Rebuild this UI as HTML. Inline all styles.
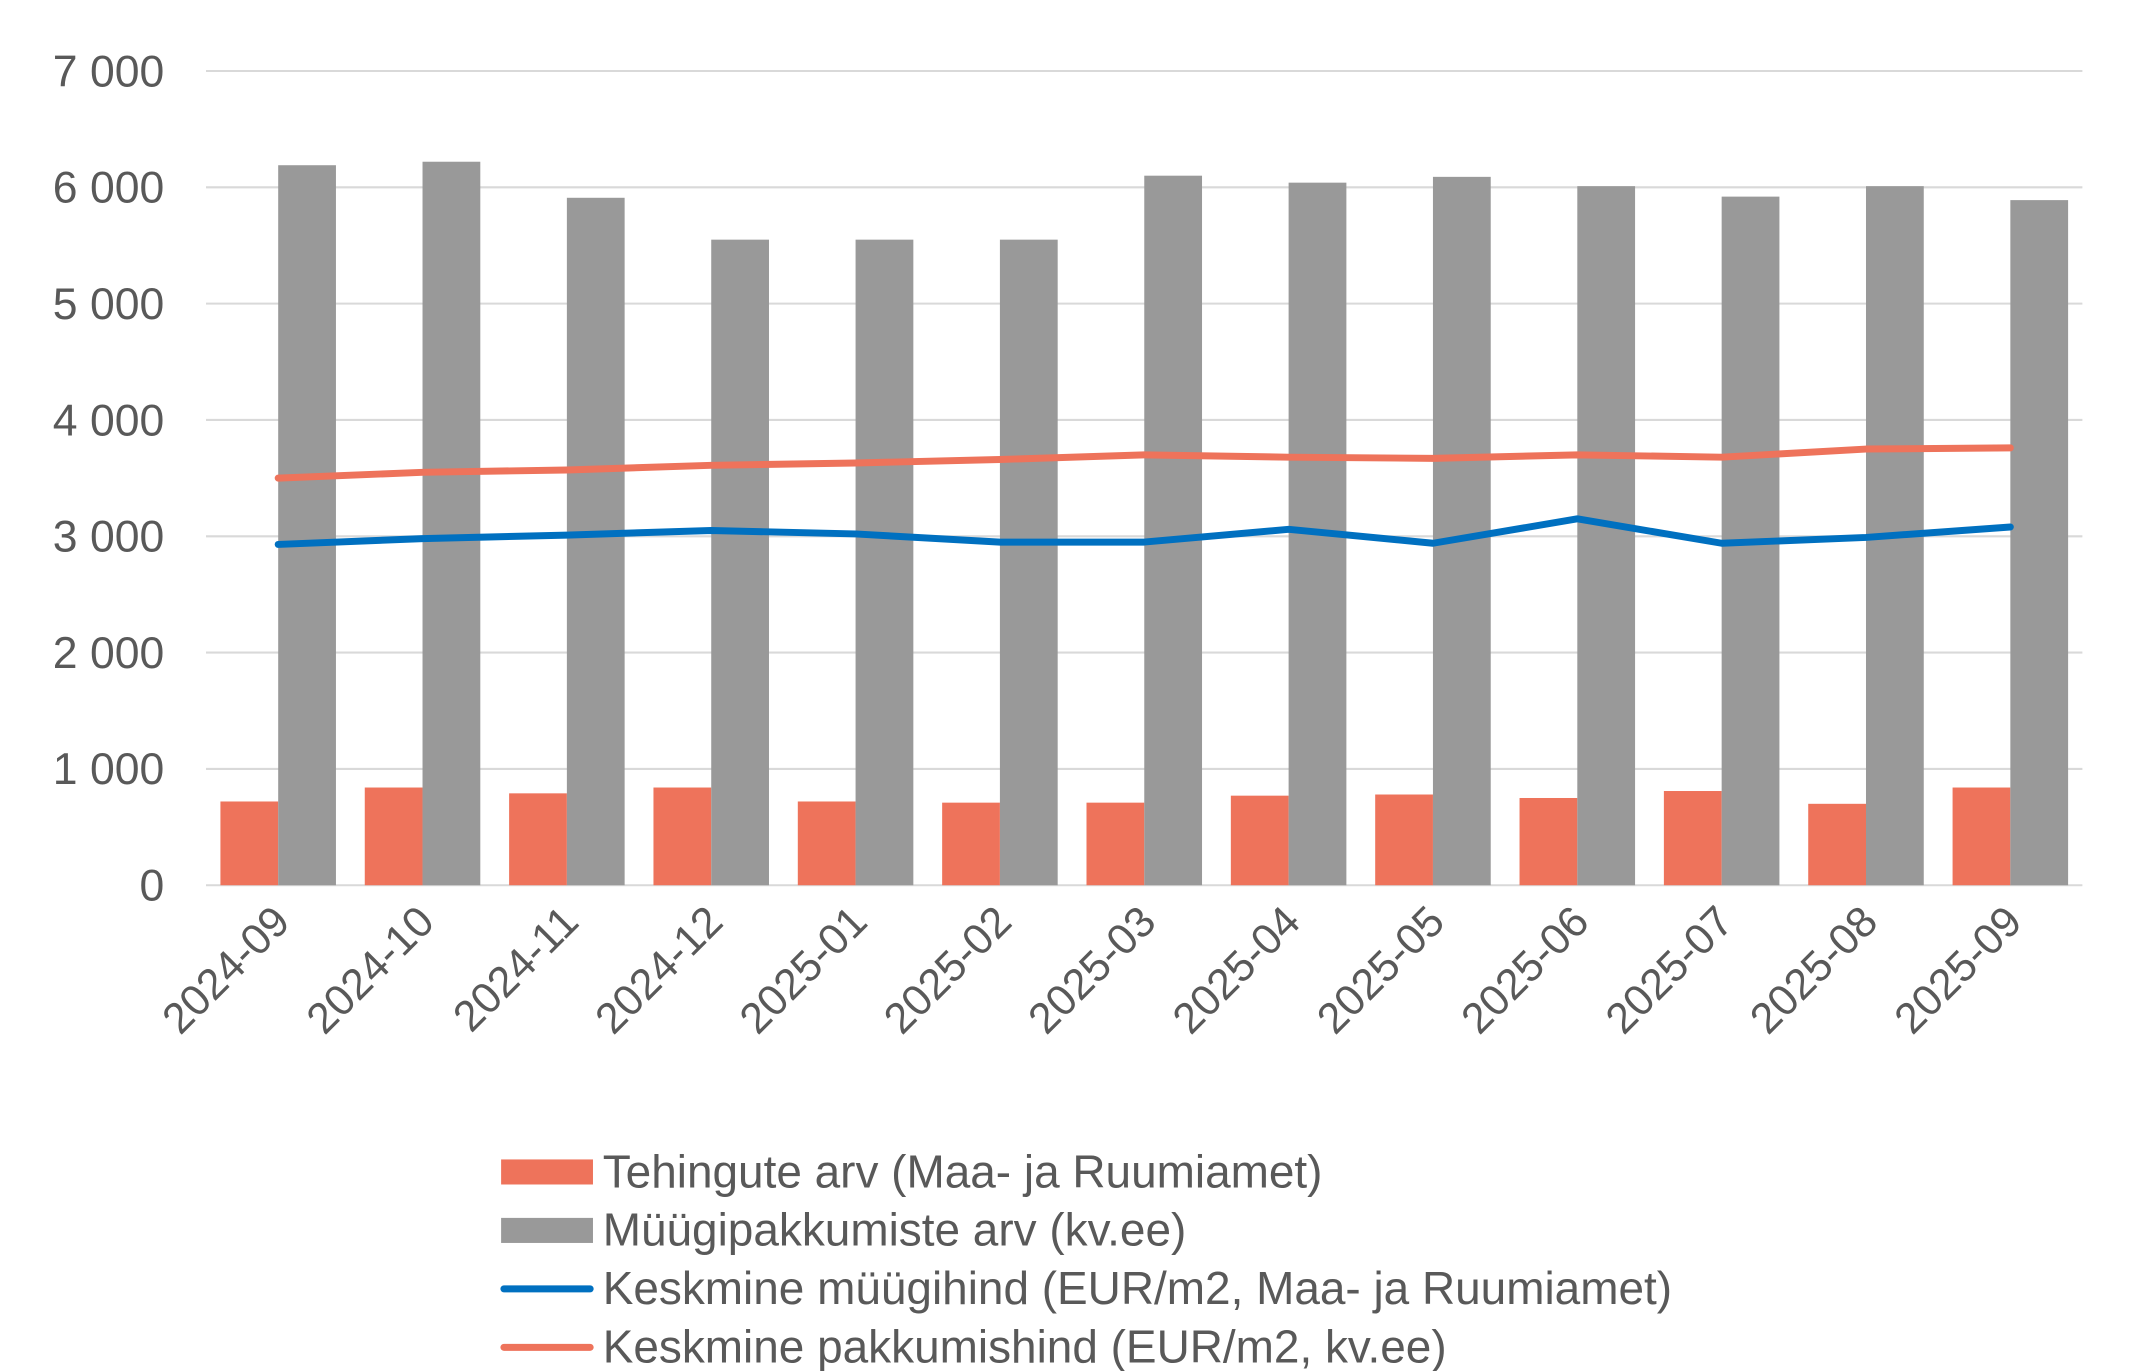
<!DOCTYPE html>
<html><head><meta charset="utf-8"><style>html,body{margin:0;padding:0;background:#fff}svg{display:block}text{font-family:"Liberation Sans",sans-serif;fill:#595959}</style></head>
<body>
<svg width="2151" height="1371" viewBox="0 0 1545.3 985" preserveAspectRatio="none" xmlns="http://www.w3.org/2000/svg">
<g id="grid" stroke="#d9d9d9" stroke-width="1.5"></g>
<g id="bars"></g>
<g id="lines"></g>
<g id="labels" font-size="31"></g>
<g font-size="33">
<rect x="360" y="833" width="66" height="18" fill="#ee735b"/>
<text x="433" y="853">Tehingute arv (Maa- ja Ruumiamet)</text>
<rect x="360" y="875" width="66" height="18" fill="#999999"/>
<text x="433" y="895">Müügipakkumiste arv (kv.ee)</text>
<line x1="362" y1="926" x2="424" y2="926" stroke="#0070c0" stroke-width="5" stroke-linecap="round"/>
<text x="433" y="937">Keskmine müügihind (EUR/m2, Maa- ja Ruumiamet)</text>
<line x1="362" y1="968" x2="424" y2="968" stroke="#ee735b" stroke-width="5" stroke-linecap="round"/>
<text x="433" y="979">Keskmine pakkumishind (EUR/m2, kv.ee)</text>
</g>
<script>
var ns="http://www.w3.org/2000/svg";
function el(p,t,a,tx){var e=document.createElementNS(ns,t);for(var k in a)e.setAttribute(k,a[k]);if(tx!==undefined)e.textContent=tx;document.getElementById(p).appendChild(e);return e;}
var y0=636,s=83.57/1000,x0=148,w=103.7;
function Y(v){return y0-v*s;}
var yl=["0","1 000","2 000","3 000","4 000","5 000","6 000","7 000"];
for(var i=0;i<8;i++){el('grid','line',{x1:148,x2:1496,y1:Y(i*1000),y2:Y(i*1000)});el('labels','text',{x:118,y:Y(i*1000)+11,'text-anchor':'end','font-size':32},yl[i]);}
var gray=[6190,6220,5910,5550,5550,5550,6100,6040,6090,6010,5920,6010,5890];
var org=[720,840,790,840,720,710,710,770,780,750,810,700,840];
var po=[3500,3550,3570,3610,3630,3660,3700,3680,3670,3700,3680,3750,3760];
var bl=[2930,2980,3010,3050,3020,2950,2950,3060,2940,3150,2940,2990,3080];
var cats=["2024-09","2024-10","2024-11","2024-12","2025-01","2025-02","2025-03","2025-04","2025-05","2025-06","2025-07","2025-08","2025-09"];
var pp=[],pb=[];
for(var i=0;i<13;i++){var c=x0+w*(i+0.5);
el('bars','rect',{x:c-41.5,y:Y(org[i]),width:41.5,height:org[i]*s,fill:'#ee735b'});
el('bars','rect',{x:c,y:Y(gray[i]),width:41.5,height:gray[i]*s,fill:'#999999'});
pp.push(c+','+Y(po[i]));pb.push(c+','+Y(bl[i]));
el('labels','text',{x:c+10,y:664,'text-anchor':'end',transform:'rotate(-45 '+(c+10)+' 664)'},cats[i]);}
el('lines','polyline',{points:pp.join(' '),fill:'none',stroke:'#ee735b','stroke-width':5,'stroke-linecap':'round','stroke-linejoin':'round'});
el('lines','polyline',{points:pb.join(' '),fill:'none',stroke:'#0070c0','stroke-width':5,'stroke-linecap':'round','stroke-linejoin':'round'});
</script>
</svg>
</body></html>
